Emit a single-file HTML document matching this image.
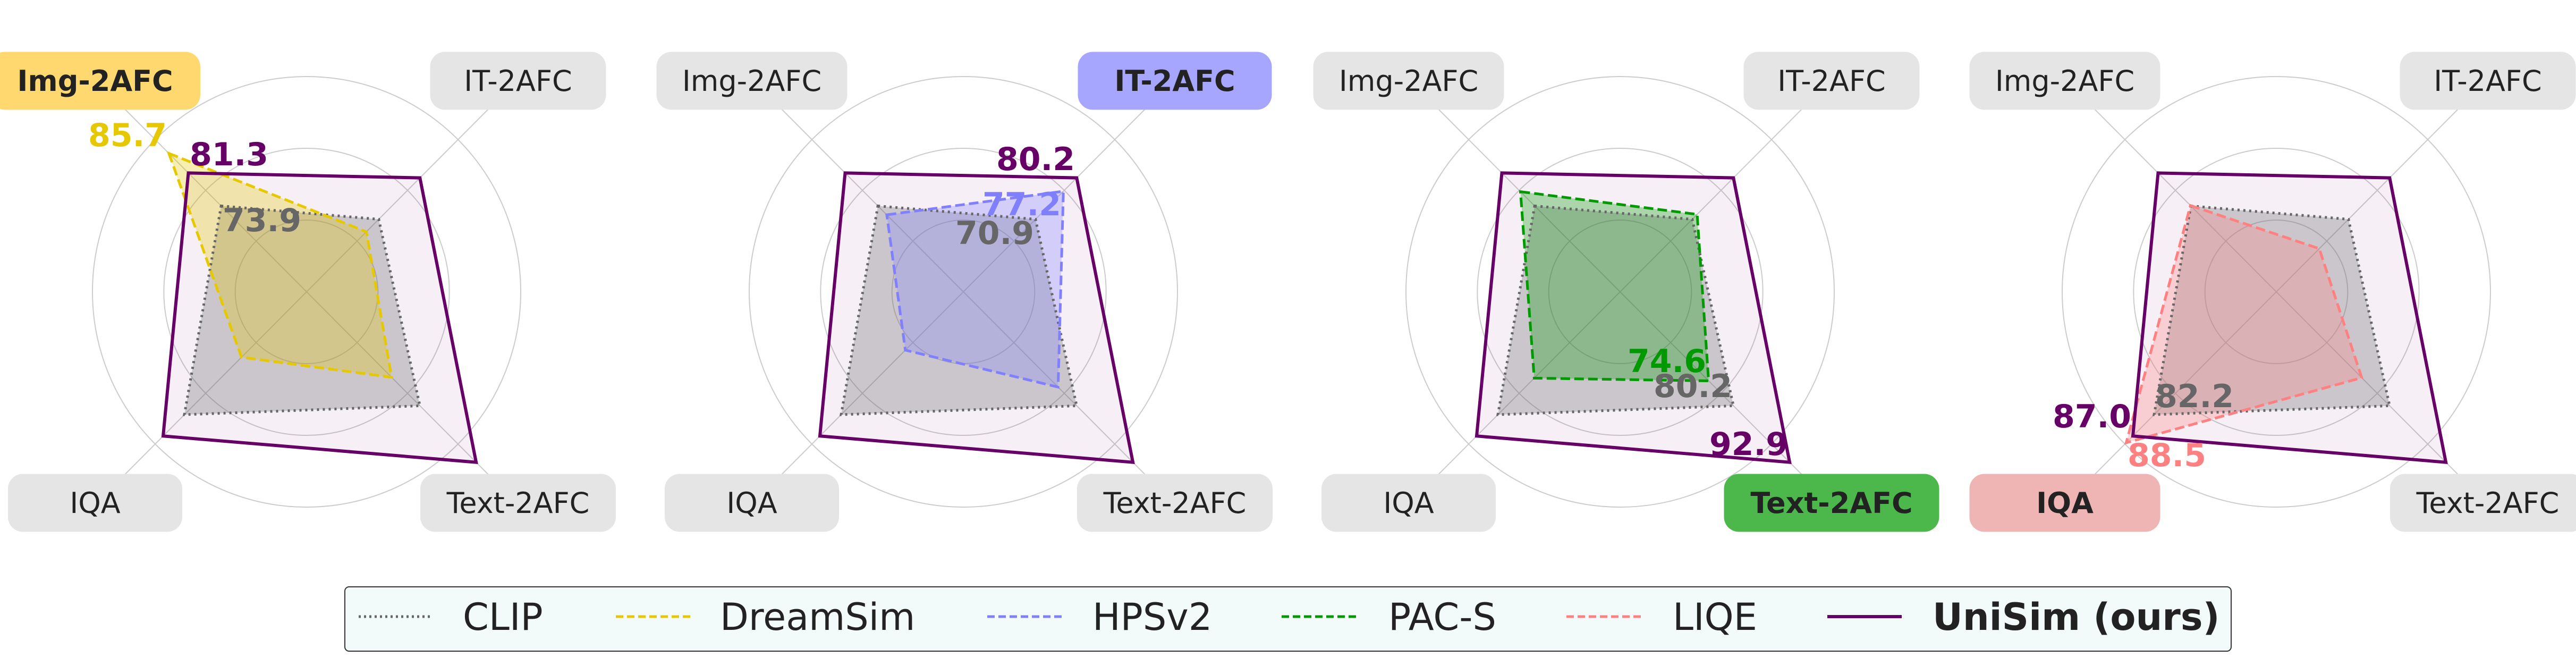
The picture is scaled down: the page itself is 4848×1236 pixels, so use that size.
<!DOCTYPE html>
<html><head><meta charset="utf-8">
<style>
html,body{margin:0;padding:0;background:#fff;}
body{width:4848px;height:1236px;overflow:hidden;position:relative;font-family:"DejaVu Sans","Liberation Sans",sans-serif;}
svg{position:absolute;left:0;top:0;}
</style></head>
<body>
<svg id="chart" width="4848" height="1236" viewBox="0 0 4848 1236" xmlns="http://www.w3.org/2000/svg"></svg>
<script>
const axes = ["Img-2AFC","IT-2AFC","Text-2AFC","IQA"];
const clipVals = [73.9,70.9,80.2,82.2];
const unisimVals = [81.3,80.2,92.9,87.0];
const dreamsimVals = [85.7,68.1,73.8,69.3];
const hpsVals = [71.9,77.2,76.0,67.7];
const pacsVals = [77.1,72.0,74.6,74.0];
const liqeVals = [74.0,64.3,73.9,88.5];
const methods = ["DreamSim","HPSv2","PAC-S","LIQE"];
const methodVals = [dreamsimVals,hpsVals,pacsVals,liqeVals];
const highlightAxis = [0,1,2,3];
const rMin = 54.6, rMax = 88.8;

const methodColors = ["#e6c800","#8080ff","#009900","#ff8080"];
const hlColors = ["#ffd970","#a6a6ff","#4cb84c","#efb5b5"];
const centersX = [577,1813,3049,4284];
const CY = 549, RX = 403, RY = 405;
const dirs = [[-1,-1],[1,-1],[1,1],[-1,1]];
const boxW = [359,331,368,328];
const boxWHl = [396,365,405,359];
const labelPos = [
  [[166,275],[419,435],[357,311]],
  [[1849,405],[1798,459],[1875,320]],
  [[3063,700],[3112,747],[3217,856]],
  [[4004,877],[4056,766],[3863,804]]
];

const NS="http://www.w3.org/2000/svg";
const svg=document.getElementById('chart');
function mk(tag,attrs,parent){const e=document.createElementNS(NS,tag);for(const k in attrs)e.setAttribute(k,attrs[k]);(parent||svg).appendChild(e);return e;}
function rScale(v){return (v-rMin)/(rMax-rMin);}
function pt(cx,i,v){const r=rScale(v);return [cx+dirs[i][0]*r*RX/Math.SQRT2, CY+dirs[i][1]*r*RY/Math.SQRT2];}
function poly(cx,vals){return vals.map((v,i)=>pt(cx,i,v).map(n=>n.toFixed(1)).join(',')).join(' ');}

for(let p=0;p<4;p++){
  const cx=centersX[p];
  const g=mk('g',{});
  
  
  [1/3,2/3,1].forEach(f=>{
    const c=mk('ellipse',{cx:cx,cy:CY,rx:RX*f,ry:RY*f,fill:'none',stroke:'#cccccc','stroke-width':2},g);
    
    
  });
  for(let i=0;i<4;i++){
    const l=mk('line',{x1:cx,y1:CY,x2:cx+dirs[i][0]*1.36*RX/Math.SQRT2,y2:CY+dirs[i][1]*1.36*RY/Math.SQRT2,stroke:'#cccccc','stroke-width':2},g);
    
    
  }
  const uf=mk('polygon',{points:poly(cx,unisimVals),fill:'#660066','fill-opacity':0.06,stroke:'none'},g);
  
  
  const cf=mk('polygon',{points:poly(cx,clipVals),fill:'#666666','fill-opacity':0.3,stroke:'none'},g);
  
  
  const mf=mk('polygon',{points:poly(cx,methodVals[p]),fill:methodColors[p],'fill-opacity':0.3,stroke:'none'},g);
  
  
  const cl=mk('polygon',{points:poly(cx,clipVals),fill:'none',stroke:'#666666','stroke-width':5,'stroke-dasharray':'4 7'},g);
  
  
  const ml=mk('polygon',{points:poly(cx,methodVals[p]),fill:'none',stroke:methodColors[p],'stroke-width':5,'stroke-dasharray':'18 8'},g);
  
  
  const ul=mk('polygon',{points:poly(cx,unisimVals),fill:'none',stroke:'#660066','stroke-width':6,'stroke-linejoin':'miter'},g);
  
  

  for(let i=0;i<4;i++){
    const hl = highlightAxis[p]===i;
    const lx=cx+dirs[i][0]*398, ly=CY+dirs[i][1]*397;
    const w = hl?boxWHl[i]:boxW[i];
    const r=mk('rect',{x:lx-w/2,y:ly-54.5,width:w,height:109,rx:28,ry:28,fill:hl?hlColors[p]:'#e5e5e5'},g);
    
    
    const t=mk('text',{x:lx,y:ly+19,'text-anchor':'middle','font-size':54,fill:'#222','font-weight':hl?'bold':'normal'},g);
    t.textContent=axes[i];
    
    
  }
  const ai=highlightAxis[p];
  const vals=[[methodVals[p][ai],methodColors[p]],[clipVals[ai],'#666666'],[unisimVals[ai],'#660066']];
  vals.forEach((vc,k)=>{
    const t=mk('text',{x:labelPos[p][k][0],y:labelPos[p][k][1],'font-size':60,'font-weight':'bold',fill:vc[1]},g);
    t.textContent=vc[0].toFixed(1);
    
    
  });
}

const lg=mk('g',{});


const lb=mk('rect',{x:649,y:1104,width:3550,height:121,rx:8,ry:8,fill:'#f2fafa',stroke:'#333','stroke-width':2},lg);


const legNames=["CLIP","DreamSim","HPSv2","PAC-S","LIQE","UniSim (ours)"];
const legColors=["#666666","#e6c800","#8080ff","#009900","#ff8080","#660066"];
const legLineX=[675,1159,1858,2412,2948,3439];
const legTextX=[871,1355,2056,2613,3148,3637];
legNames.forEach((n,i)=>{
  const dash=i===0?'4 6':(i===5?'none':'14 7');
  const l=mk('line',{x1:legLineX[i],y1:1160,x2:legLineX[i]+140,y2:1160,stroke:legColors[i],'stroke-width':i===5?6:5,'stroke-dasharray':dash},lg);
  
  
  const t=mk('text',{x:legTextX[i],y:1185,'font-size':70,fill:'#222','font-weight':i===5?'bold':'normal'},lg);
  t.textContent=n;
  
  
});
</script>
</body></html>
